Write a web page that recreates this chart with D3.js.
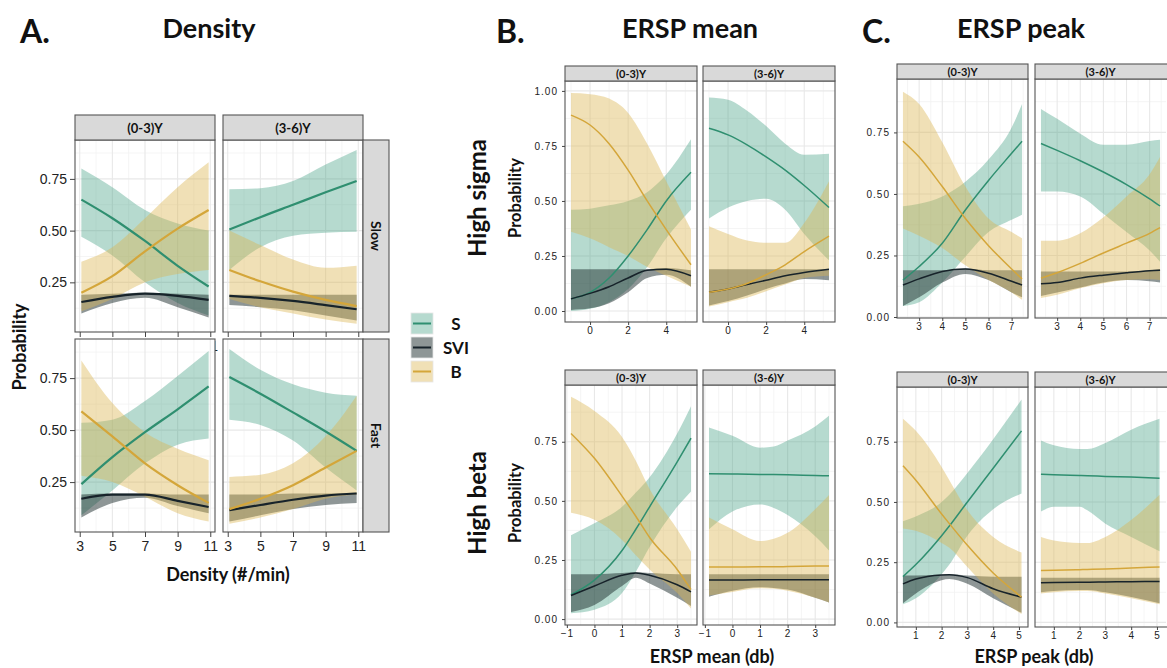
<!DOCTYPE html>
<html>
<head>
<meta charset="utf-8">
<script src="https://cdn.jsdelivr.net/npm/d3@7"></script>
<style>
  html, body { margin: 0; padding: 0; background: #fff; }
  svg { display: block; }
</style>
</head>
<body>
<svg id="chart" width="1167" height="668"></svg>
<script>
// ---------------------------------------------------------------
// Predicted probability (fit, lower, upper) of each outcome class
// ---------------------------------------------------------------
const ageGroups = ["(0-3)Y", "(3-6)Y"];
const outcomes  = ["S", "SVI", "B"];
const speedRows = ["Slow", "Fast"];
const bandRows  = ["High sigma", "High beta"];

// A. Density (#/min)
const densityX = [3.1, 5, 7, 9, 10.9];
const densSlowYoung = {
  S:   { fit: [0.65, 0.56, 0.45, 0.33, 0.23],     lo: [0.47, 0.38, 0.25, 0.15, 0.09],     hi: [0.80, 0.71, 0.60, 0.535, 0.50] },
  SVI: { fit: [0.155, 0.18, 0.195, 0.185, 0.165], lo: [0.10, 0.15, 0.175, 0.13, 0.08],    hi: [0.19, 0.195, 0.20, 0.195, 0.19] },
  B:   { fit: [0.20, 0.28, 0.40, 0.51, 0.60],     lo: [0.11, 0.17, 0.25, 0.29, 0.31],     hi: [0.35, 0.42, 0.56, 0.71, 0.83] }
};
const densSlowOld = {
  S:   { fit: [0.505, 0.565, 0.625, 0.685, 0.74], lo: [0.31, 0.42, 0.475, 0.49, 0.495],   hi: [0.70, 0.705, 0.74, 0.82, 0.89] },
  SVI: { fit: [0.185, 0.175, 0.16, 0.14, 0.12],   lo: [0.14, 0.13, 0.115, 0.09, 0.065],   hi: [0.19, 0.19, 0.19, 0.19, 0.19] },
  B:   { fit: [0.31, 0.255, 0.205, 0.165, 0.135], lo: [0.17, 0.13, 0.10, 0.07, 0.05],     hi: [0.50, 0.43, 0.36, 0.32, 0.33] }
};
const densFastYoung = {
  S:   { fit: [0.24, 0.37, 0.49, 0.60, 0.71],     lo: [0.09, 0.21, 0.34, 0.43, 0.46],     hi: [0.535, 0.55, 0.64, 0.76, 0.88] },
  SVI: { fit: [0.17, 0.19, 0.19, 0.16, 0.13],     lo: [0.08, 0.15, 0.175, 0.135, 0.10],   hi: [0.19, 0.195, 0.195, 0.19, 0.19] },
  B:   { fit: [0.59, 0.47, 0.34, 0.235, 0.15],    lo: [0.28, 0.25, 0.18, 0.10, 0.06],     hi: [0.835, 0.63, 0.49, 0.41, 0.355] }
};
const densFastOld = {
  S:   { fit: [0.755, 0.675, 0.585, 0.493, 0.40], lo: [0.55, 0.525, 0.45, 0.32, 0.21],    hi: [0.89, 0.79, 0.72, 0.68, 0.665] },
  SVI: { fit: [0.115, 0.14, 0.165, 0.185, 0.195], lo: [0.06, 0.09, 0.12, 0.14, 0.15],     hi: [0.19, 0.19, 0.195, 0.195, 0.20] },
  B:   { fit: [0.12, 0.17, 0.235, 0.32, 0.40],    lo: [0.05, 0.08, 0.12, 0.17, 0.19],     hi: [0.275, 0.285, 0.34, 0.47, 0.665] }
};

// B. ERSP mean (db)
const meanSigmaX = [-1, 0, 1, 2, 3, 4, 5.3];
const meanSigmaYoung = {
  S:   { fit: [0.055, 0.085, 0.15, 0.25, 0.37, 0.50, 0.63],   lo: [0.0, 0.01, 0.04, 0.10, 0.20, 0.33, 0.46],      hi: [0.46, 0.465, 0.48, 0.50, 0.54, 0.62, 0.78] },
  SVI: { fit: [0.055, 0.08, 0.11, 0.15, 0.185, 0.19, 0.16],   lo: [0.005, 0.012, 0.035, 0.085, 0.15, 0.165, 0.11], hi: [0.19, 0.19, 0.19, 0.19, 0.19, 0.195, 0.185] },
  B:   { fit: [0.89, 0.845, 0.76, 0.64, 0.50, 0.37, 0.21],    lo: [0.36, 0.33, 0.29, 0.25, 0.20, 0.16, 0.11],     hi: [0.99, 0.985, 0.965, 0.90, 0.76, 0.59, 0.37] }
};
const meanSigmaOld = {
  S:   { fit: [0.83, 0.80, 0.755, 0.70, 0.64, 0.57, 0.47],    lo: [0.42, 0.47, 0.50, 0.51, 0.46, 0.35, 0.23],     hi: [0.97, 0.96, 0.91, 0.84, 0.76, 0.71, 0.715] },
  SVI: { fit: [0.085, 0.10, 0.12, 0.14, 0.16, 0.175, 0.19],   lo: [0.025, 0.045, 0.07, 0.10, 0.125, 0.145, 0.14], hi: [0.19, 0.19, 0.19, 0.19, 0.19, 0.19, 0.19] },
  B:   { fit: [0.085, 0.10, 0.125, 0.165, 0.21, 0.27, 0.34],  lo: [0.02, 0.04, 0.06, 0.09, 0.12, 0.15, 0.16],     hi: [0.385, 0.35, 0.32, 0.31, 0.31, 0.40, 0.59] }
};
const meanBetaX = [-0.85, 0, 1, 1.5, 2, 3, 3.5];
const meanBetaYoung = {
  S:   { fit: [0.103, 0.165, 0.29, 0.38, 0.475, 0.665, 0.765], lo: [0.025, 0.04, 0.11, 0.20, 0.305, 0.475, 0.54], hi: [0.355, 0.405, 0.475, 0.535, 0.60, 0.785, 0.90] },
  SVI: { fit: [0.10, 0.14, 0.185, 0.195, 0.185, 0.145, 0.115], lo: [0.03, 0.06, 0.14, 0.175, 0.15, 0.09, 0.055],  hi: [0.19, 0.19, 0.195, 0.198, 0.195, 0.19, 0.19] },
  B:   { fit: [0.785, 0.68, 0.52, 0.435, 0.345, 0.21, 0.125], lo: [0.45, 0.42, 0.335, 0.27, 0.21, 0.11, 0.045],  hi: [0.94, 0.88, 0.77, 0.67, 0.55, 0.38, 0.285] }
};
const meanBetaOld = {
  S:   { fit: [0.615, 0.614, 0.612, 0.611, 0.61, 0.607, 0.606], lo: [0.38, 0.455, 0.485, 0.47, 0.44, 0.35, 0.29],  hi: [0.81, 0.775, 0.725, 0.73, 0.755, 0.815, 0.86] },
  SVI: { fit: [0.165, 0.165, 0.166, 0.166, 0.166, 0.166, 0.166], lo: [0.095, 0.12, 0.135, 0.132, 0.125, 0.09, 0.07], hi: [0.19, 0.19, 0.19, 0.19, 0.19, 0.19, 0.19] },
  B:   { fit: [0.22, 0.22, 0.221, 0.221, 0.222, 0.224, 0.225], lo: [0.10, 0.115, 0.13, 0.128, 0.12, 0.09, 0.07],  hi: [0.43, 0.38, 0.33, 0.34, 0.365, 0.465, 0.525] }
};

// C. ERSP peak (db)
const peakSigmaX = [2.3, 3, 4, 5, 6, 7, 7.45];
const peakSigmaYoung = {
  S:   { fit: [0.15, 0.205, 0.30, 0.435, 0.555, 0.665, 0.714],  lo: [0.045, 0.06, 0.14, 0.245, 0.345, 0.395, 0.415], hi: [0.45, 0.46, 0.49, 0.55, 0.64, 0.77, 0.865] },
  SVI: { fit: [0.13, 0.155, 0.185, 0.195, 0.178, 0.145, 0.13],  lo: [0.045, 0.08, 0.14, 0.175, 0.15, 0.10, 0.08],   hi: [0.19, 0.19, 0.19, 0.197, 0.19, 0.19, 0.19] },
  B:   { fit: [0.714, 0.65, 0.53, 0.40, 0.29, 0.195, 0.155],   lo: [0.36, 0.33, 0.28, 0.21, 0.15, 0.10, 0.07],      hi: [0.915, 0.865, 0.71, 0.53, 0.40, 0.345, 0.32] }
};
const peakSigmaOld = {
  S:   { fit: [0.705, 0.677, 0.635, 0.589, 0.538, 0.48, 0.451], lo: [0.51, 0.51, 0.49, 0.42, 0.345, 0.27, 0.225],   hi: [0.845, 0.805, 0.745, 0.70, 0.70, 0.715, 0.72] },
  SVI: { fit: [0.135, 0.14, 0.158, 0.17, 0.18, 0.188, 0.19],   lo: [0.085, 0.10, 0.12, 0.14, 0.15, 0.145, 0.14],    hi: [0.185, 0.185, 0.185, 0.185, 0.185, 0.19, 0.195] },
  B:   { fit: [0.158, 0.18, 0.218, 0.26, 0.30, 0.34, 0.363],   lo: [0.077, 0.09, 0.117, 0.137, 0.15, 0.153, 0.15],  hi: [0.31, 0.31, 0.34, 0.405, 0.49, 0.58, 0.65] }
};
const peakBetaX = [0.5, 1, 2, 2.3, 3, 4, 5.1];
const peakBetaYoung = {
  S:   { fit: [0.19, 0.24, 0.36, 0.40, 0.50, 0.64, 0.795],     lo: [0.075, 0.10, 0.20, 0.24, 0.36, 0.47, 0.535],    hi: [0.42, 0.44, 0.50, 0.53, 0.62, 0.76, 0.925] },
  SVI: { fit: [0.16, 0.18, 0.197, 0.198, 0.186, 0.14, 0.105],  lo: [0.08, 0.12, 0.175, 0.18, 0.16, 0.10, 0.04],     hi: [0.195, 0.195, 0.198, 0.199, 0.195, 0.19, 0.19] },
  B:   { fit: [0.65, 0.59, 0.45, 0.41, 0.32, 0.205, 0.105],    lo: [0.39, 0.38, 0.33, 0.31, 0.23, 0.12, 0.035],     hi: [0.845, 0.795, 0.645, 0.59, 0.465, 0.355, 0.29] }
};
const peakBetaOld = {
  S:   { fit: [0.615, 0.613, 0.61, 0.609, 0.606, 0.603, 0.598], lo: [0.46, 0.48, 0.48, 0.465, 0.41, 0.355, 0.295],  hi: [0.755, 0.735, 0.72, 0.72, 0.745, 0.80, 0.845] },
  SVI: { fit: [0.165, 0.166, 0.167, 0.167, 0.168, 0.169, 0.17], lo: [0.125, 0.13, 0.135, 0.135, 0.125, 0.105, 0.08], hi: [0.185, 0.185, 0.185, 0.185, 0.185, 0.185, 0.185] },
  B:   { fit: [0.215, 0.216, 0.219, 0.22, 0.222, 0.226, 0.23],  lo: [0.12, 0.125, 0.13, 0.13, 0.12, 0.10, 0.075],   hi: [0.355, 0.34, 0.33, 0.33, 0.355, 0.425, 0.53] }
};

// Tick values
const densityTicksX = [3, 5, 7, 9, 11];
const densityTicksY = [0.25, 0.5, 0.75];
const meanSigmaTicksX = [0, 2, 4];
const meanBetaTicksX = [-1, 0, 1, 2, 3];
const peakSigmaTicksX = [3, 4, 5, 6, 7];
const peakBetaTicksX = [1, 2, 3, 4, 5];
const probTicksFull = [0, 0.25, 0.5, 0.75, 1];
const probTicks = [0, 0.25, 0.5, 0.75];

// ---------------------------------------------------------------
// Styles
// ---------------------------------------------------------------
const FONT_T = "Lato, 'Open Sans', sans-serif";
const FONT_N = "'Liberation Sans', Arial, sans-serif";
const ribbonStyle = {
  S:   { fill: "#3f9e80", op: 0.38 },
  SVI: { fill: "#1e2e2e", op: 0.50 },
  B:   { fill: "#dcb450", op: 0.42 }
};
const lineColor = { S: "#2f8f70", SVI: "#17232a", B: "#d4a63a" };

const svg = d3.select("#chart");
const defs = svg.append("defs");
let clipCount = 0;

function gridValues(domain, step, offset) {
  const out = [];
  const start = Math.ceil((domain[0] - offset) / step) * step + offset;
  for (let v = start; v <= domain[1] + 1e-9; v += step) out.push(+v.toFixed(6));
  return out;
}

function drawPanel(p) {
  const x = d3.scaleLinear().domain(p.xDomain).range([p.x0, p.x1]);
  const y = d3.scaleLinear().domain(p.yDomain).range([p.y1, p.y0]);
  const w = p.x1 - p.x0, h = p.y1 - p.y0;
  const g = svg.append("g");

  const clipId = "clip" + (clipCount++);
  defs.append("clipPath").attr("id", clipId)
    .append("rect").attr("x", p.x0).attr("y", p.y0).attr("width", w).attr("height", h);

  g.append("rect").attr("x", p.x0).attr("y", p.y0).attr("width", w).attr("height", h).attr("fill", "#fff");

  // grid: minor then major
  const grid = g.append("g").attr("clip-path", `url(#${clipId})`);
  gridValues(p.xDomain, p.xStep / 2, p.xStep / 2 + p.xTicks[0]).forEach(v => {
    if (p.xTicks.some(t => Math.abs(t - v) < 1e-6)) return;
    grid.append("line").attr("x1", x(v)).attr("x2", x(v)).attr("y1", p.y0).attr("y2", p.y1)
      .attr("stroke", "#f2f2f2").attr("stroke-width", 0.8);
  });
  gridValues(p.yDomain, 0.25, 0.125).forEach(v => {
    grid.append("line").attr("y1", y(v)).attr("y2", y(v)).attr("x1", p.x0).attr("x2", p.x1)
      .attr("stroke", "#f2f2f2").attr("stroke-width", 0.8);
  });
  gridValues(p.xDomain, p.xStep, p.xTicks[0]).forEach(v => {
    grid.append("line").attr("x1", x(v)).attr("x2", x(v)).attr("y1", p.y0).attr("y2", p.y1)
      .attr("stroke", "#e8e8e8").attr("stroke-width", 1.1);
  });
  gridValues(p.yDomain, 0.25, 0).forEach(v => {
    grid.append("line").attr("y1", y(v)).attr("y2", y(v)).attr("x1", p.x0).attr("x2", p.x1)
      .attr("stroke", "#e8e8e8").attr("stroke-width", 1.1);
  });

  // confidence ribbons and fitted lines
  const plot = g.append("g").attr("clip-path", `url(#${clipId})`);
  const curve = d3.curveMonotoneX;
  const rows = k => p.xs.map((xv, i) => ({ x: xv, fit: p.data[k].fit[i], lo: p.data[k].lo[i], hi: p.data[k].hi[i] }));
  const area = d3.area().x(d => x(d.x)).y0(d => y(d.lo)).y1(d => y(d.hi)).curve(curve);
  const line = d3.line().x(d => x(d.x)).y(d => y(d.fit)).curve(curve);
  outcomes.forEach(k => {
    plot.append("path").attr("d", area(rows(k)))
      .attr("fill", ribbonStyle[k].fill).attr("fill-opacity", ribbonStyle[k].op);
  });
  outcomes.forEach(k => {
    plot.append("path").attr("d", line(rows(k)))
      .attr("fill", "none").attr("stroke", lineColor[k])
      .attr("stroke-width", p.lw).attr("stroke-linecap", "butt");
  });

  // panel frame
  g.append("rect").attr("x", p.x0).attr("y", p.y0).attr("width", p.frameW || w).attr("height", h)
    .attr("fill", "none").attr("stroke", "#555").attr("stroke-width", 1.1);

  // axes
  const xa = g.append("g").attr("transform", `translate(0,${p.y1})`)
    .call(d3.axisBottom(x).tickValues(p.xTicks).tickSize(p.tickLen).tickPadding(p.xPad).tickFormat(d3.format("d")));
  xa.select(".domain").remove();
  xa.selectAll("line").attr("stroke", "#444");
  xa.selectAll("text").attr("font-family", FONT_N).attr("font-size", p.tickFont)
    .attr("letter-spacing", p.tickSpacing).attr("fill", "#222");

  if (p.showY) {
    const ya = g.append("g").attr("transform", `translate(${p.x0},0)`)
      .call(d3.axisLeft(y).tickValues(p.yTicks).tickSize(p.tickLen).tickPadding(p.yPad).tickFormat(d3.format(".2f")));
    ya.select(".domain").remove();
    ya.selectAll("line").attr("stroke", "#444");
    ya.selectAll("text").attr("font-family", FONT_N).attr("font-size", p.tickFont)
      .attr("letter-spacing", p.tickSpacing).attr("fill", "#222");
  }

  // top strip
  if (p.strip) {
    g.append("rect").attr("x", p.x0).attr("y", p.y0 - p.stripH).attr("width", p.frameW || w).attr("height", p.stripH)
      .attr("fill", "#d9d9d9").attr("stroke", "#555").attr("stroke-width", 1.1);
    g.append("text").attr("x", p.x0 + w / 2).attr("y", p.y0 - p.stripH / 2)
      .attr("text-anchor", "middle").attr("dominant-baseline", "central")
      .attr("font-family", FONT_T).attr("font-weight", 700).attr("font-size", p.stripFont)
      .attr("fill", "#111").text(p.strip);
  }
  // right-hand row strip
  if (p.rowStrip) {
    const sx = p.x1, sw = 26;
    g.append("rect").attr("x", sx).attr("y", p.y0).attr("width", sw).attr("height", h)
      .attr("fill", "#d9d9d9").attr("stroke", "#555").attr("stroke-width", 1.1);
    g.append("text").attr("transform", `translate(${sx + sw / 2},${p.y0 + h / 2}) rotate(90)`)
      .attr("text-anchor", "middle").attr("dominant-baseline", "central")
      .attr("font-family", FONT_T).attr("font-weight", 700).attr("font-size", 14)
      .attr("fill", "#111").text(p.rowStrip);
  }
}

// ---------------------------------------------------------------
// A. Density  (facet grid: age group x speed)
// ---------------------------------------------------------------
const densityData = [[densSlowYoung, densSlowOld], [densFastYoung, densFastOld]];
const aCols = [[75, 215], [223, 363]];
const aRows = [[140, 332], [339, 532]];
aRows.forEach((r, ri) => aCols.forEach((c, ci) => drawPanel({
  x0: c[0], x1: c[1], y0: r[0], y1: r[1],
  xDomain: [2.71, 11.29], yDomain: [0.01, 0.938],
  xs: densityX, data: densityData[ri][ci],
  xTicks: densityTicksX, xStep: 2, yTicks: densityTicksY,
  showY: ci === 0, tickLen: 5, xPad: 4, yPad: 3, tickFont: 14, tickSpacing: 0,
  lw: 2.2,
  strip: ri === 0 ? ageGroups[ci] : null, stripH: 25, stripFont: 13,
  rowStrip: ci === 1 ? speedRows[ri] : null
})));

// ---------------------------------------------------------------
// B. ERSP mean  and  C. ERSP peak  (one row per frequency band)
// ---------------------------------------------------------------
const waveBlocks = [
  { cols: [[565, 697], [703, 835]], rows: [
      { y0: 81, y1: 322, yDom: [-0.05, 1.045], yTicks: probTicksFull, xDom: [-1.315, 5.615], xs: meanSigmaX, xTicks: meanSigmaTicksX, xStep: 2, data: [meanSigmaYoung, meanSigmaOld] },
      { y0: 385, y1: 625, yDom: [-0.025, 0.99], yTicks: probTicks, xDom: [-1.0675, 3.7175], xs: meanBetaX, xTicks: meanBetaTicksX, xStep: 1, data: [meanBetaYoung, meanBetaOld] }
  ]},
  { cols: [[897, 1028], [1035, 1166]], rows: [
      { y0: 79, y1: 318, yDom: [-0.004, 0.967], yTicks: probTicks, xDom: [2.0425, 7.7075], xs: peakSigmaX, xTicks: peakSigmaTicksX, xStep: 1, data: [peakSigmaYoung, peakSigmaOld] },
      { y0: 387, y1: 627, yDom: [-0.019, 0.977], yTicks: probTicks, xDom: [0.269, 5.351], xs: peakBetaX, xTicks: peakBetaTicksX, xStep: 1, data: [peakBetaYoung, peakBetaOld] }
  ]}
];
waveBlocks.forEach(b => b.rows.forEach(r => b.cols.forEach((c, ci) => drawPanel({
  x0: c[0], x1: c[1], y0: r.y0, y1: r.y1,
  frameW: c[1] > 1100 ? 140 : null,
  xDomain: r.xDom, yDomain: r.yDom, xs: r.xs, data: r.data[ci],
  xTicks: r.xTicks, xStep: r.xStep, yTicks: r.yTicks,
  showY: ci === 0, tickLen: 3, xPad: 2, yPad: 4, tickFont: 10, tickSpacing: 1,
  lw: 1.5,
  strip: ageGroups[ci], stripH: 15, stripFont: 11
}))));

// ---------------------------------------------------------------
// Titles, axis titles, legend
// ---------------------------------------------------------------
function label(x, y, txt, size, opts = {}) {
  const t = svg.append("text").attr("font-family", FONT_T).attr("font-weight", 700)
    .attr("font-size", size).attr("fill", "#111").text(txt);
  if (opts.rotate) {
    t.attr("transform", `translate(${x},${y}) rotate(${opts.rotate})`).attr("text-anchor", opts.anchor || "middle");
  } else {
    t.attr("x", x).attr("y", y).attr("text-anchor", opts.anchor || "middle");
  }
  return t;
}

label(20, 43, "A.", 32, { anchor: "start" });
label(209, 38, "Density", 27);
label(496, 43, "B.", 32, { anchor: "start" });
label(690, 38, "ERSP mean", 27);
label(862, 43, "C.", 32, { anchor: "start" });
label(1021, 38, "ERSP peak", 27);

label(228, 581, "Density (#/min)", 18);
label(712, 663, "ERSP mean (db)", 18);
label(1034, 663, "ERSP peak (db)", 18);

label(26, 347, "Probability", 18, { rotate: -90 });
label(521, 198, "Probability", 16.5, { rotate: -90 });
label(521, 503, "Probability", 16.5, { rotate: -90 });
label(486, 198, bandRows[0], 24, { rotate: -90 });
label(486, 503, bandRows[1], 24, { rotate: -90 });

// legend
outcomes.forEach((k, i) => {
  const ky = 313 + i * 24;
  svg.append("rect").attr("x", 411).attr("y", ky).attr("width", 22).attr("height", 21)
    .attr("fill", ribbonStyle[k].fill).attr("fill-opacity", ribbonStyle[k].op)
    .attr("stroke", "#e6e6e6").attr("stroke-width", 0.8);
  svg.append("line").attr("x1", 413).attr("x2", 431).attr("y1", ky + 10.5).attr("y2", ky + 10.5)
    .attr("stroke", lineColor[k]).attr("stroke-width", 2);
  svg.append("text").attr("x", 456).attr("y", ky + 10.5)
    .attr("text-anchor", "middle").attr("dominant-baseline", "central")
    .attr("font-family", FONT_T).attr("font-weight", 700).attr("font-size", 17)
    .attr("fill", "#111").text(k);
});
</script>
</body>
</html>
